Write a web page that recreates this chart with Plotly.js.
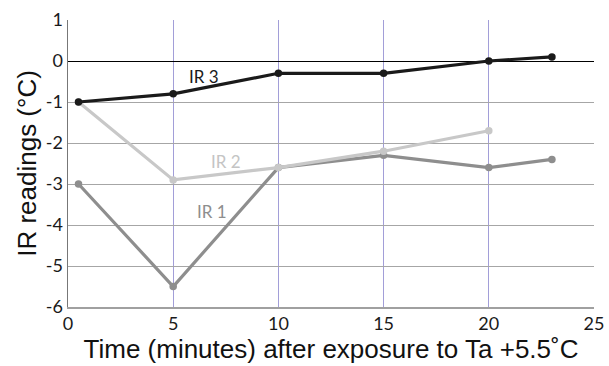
<!DOCTYPE html>
<html><head><meta charset="utf-8">
<script src="https://cdn.plot.ly/plotly-3.0.1.min.js"></script>
<style>html,body{margin:0;padding:0;background:#fff}#chart{width:609px;height:366px}</style>
</head><body><div id="chart"></div>
<script>
const timeIR3 = [0.5, 5, 10, 15, 20, 23];
const valIR3 = [-1, -0.8, -0.3, -0.3, 0, 0.1];
const timeIR2 = [0.5, 5, 10, 15, 20];
const valIR2 = [-1, -2.9, -2.6, -2.2, -1.7];
const timeIR1 = [0.5, 5, 10, 15, 20, 23];
const valIR1 = [-3, -5.5, -2.6, -2.3, -2.6, -2.4];
const xTicks = [0, 5, 10, 15, 20, 25];
const yTicks = [-6, -5, -4, -3, -2, -1, 0, 1];
const labels = [
  {text: 'IR 3', x: 6.45, y: -0.37, color: '#1a1a1a'},
  {text: 'IR 2', x: 7.5, y: -2.44, color: '#c4c4c4'},
  {text: 'IR 1', x: 6.85, y: -3.68, color: '#8e8e8e'}
];

const mk = (x, y, c) => ({x, y, type: 'scatter', mode: 'lines+markers',
  line: {color: c, width: 3.2}, marker: {color: c, size: 7.5}, hoverinfo: 'none', cliponaxis: false});

const data = [mk(timeIR1, valIR1, '#8e8e8e'), mk(timeIR2, valIR2, '#c8c8c8'), mk(timeIR3, valIR3, '#1a1a1a')];

const layout = {
  width: 609, height: 366,
  margin: {l: 68, r: 15, t: 20, b: 59},
  showlegend: false,
  paper_bgcolor: '#fff', plot_bgcolor: '#fff',
  font: {family: 'Liberation Sans, Arial, sans-serif', color: '#222'},
  xaxis: {range: [0, 25], tickvals: xTicks, ticktext: xTicks.map(String),
    showgrid: true, gridcolor: '#a29ed8', gridwidth: 1,
    showline: true, linecolor: '#a0a0a0', linewidth: 1.5, zeroline: false,
    ticks: '', tickfont: {family: 'Lato, sans-serif', size: 18, color: '#1a1a1a'},
    title: {text: 'Time (minutes) after exposure to Ta +5.5˚C', font: {size: 26, color: '#111'}, standoff: 3}},
  yaxis: {range: [-6, 1], tickvals: yTicks, ticktext: yTicks.map(String),
    showgrid: true, gridcolor: '#a6a6a6', gridwidth: 1,
    showline: true, linecolor: '#777', linewidth: 1.5,
    zeroline: true, zerolinecolor: '#000', zerolinewidth: 1,
    ticks: '', ticklen: 0, tickfont: {family: 'Lato, sans-serif', size: 18, color: '#1a1a1a'},
    title: {text: 'IR readings (°C)', font: {size: 26, color: '#111'}, standoff: 1}},
  annotations: labels.map(l => ({text: l.text, x: l.x, y: l.y, xref: 'x', yref: 'y',
    showarrow: false, font: {family: 'Lato, sans-serif', size: 17, color: l.color}}))
};
Plotly.newPlot('chart', data, layout, {staticPlot: true, displayModeBar: false});
</script></body></html>
